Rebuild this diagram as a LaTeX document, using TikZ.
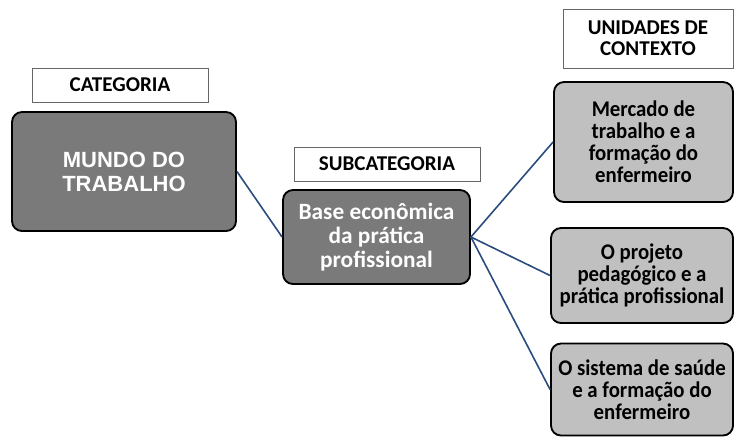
\documentclass[tikz,border=0pt]{standalone}
\usepackage{fontspec}
\setmainfont{Carlito}
\newfontfamily\arialfont{Liberation Sans}
\newfontfamily\semifont{Carlito}[FakeStretch=0.93]
\definecolor{darkbox}{HTML}{7A7A7A}
\definecolor{lightbox}{HTML}{C0C0C0}
\definecolor{linkblue}{HTML}{2B4C7E}
\begin{document}
\begin{tikzpicture}[x=0.75pt,y=-0.75pt,
  labelbox/.style={draw=black!60,line width=0.6pt,fill=white,inner sep=0pt,font=\bfseries\fontsize{15.8}{15.75}\selectfont,align=center},
  darkrbox/.style={draw=black,line width=1.4pt,rounded corners=7.5pt,fill=darkbox,inner sep=0pt,text=white,align=center},
  lightrbox/.style={draw=black,line width=1.4pt,rounded corners=7.5pt,fill=lightbox,inner sep=0pt,text=black,align=center,font=\semifont\bfseries\fontsize{16.8}{16.4}\selectfont},
  link/.style={draw=linkblue,line width=1.2pt}]
\useasboundingbox (0,0) rectangle (734,437);
% label boxes
\node[labelbox,minimum width=176*0.75pt,minimum height=34*0.75pt] (lcat) at (120,85) {CATEGORIA};
\node[labelbox,minimum width=186*0.75pt,minimum height=34*0.75pt] (lsub) at (387,164) {SUBCATEGORIA};
\node[labelbox,minimum width=170*0.75pt,minimum height=59*0.75pt] (lctx) at (648,38.5) {UNIDADES DE\\CONTEXTO};
% main boxes
\node[darkrbox,minimum width=224*0.75pt,minimum height=119*0.75pt,font=\arialfont\bfseries\fontsize{16.5}{18}\selectfont] (mundo) at (124,171.5) {MUNDO DO\\TRABALHO};
\node[darkrbox,minimum width=187*0.75pt,minimum height=94*0.75pt,font=\bfseries\fontsize{17.5}{18.2}\selectfont] (sub) at (376.5,237) {Base econômica\\da prática\\profissional};
\node[lightrbox,minimum width=179*0.75pt,minimum height=120*0.75pt] (u1) at (643.5,142) {Mercado de\\trabalho e a\\formação do\\enfermeiro};
\node[lightrbox,minimum width=182*0.75pt,minimum height=95*0.75pt] (u2) at (642,275.5) {O projeto\\pedagógico e a\\prática profissional};
\node[lightrbox,minimum width=182*0.75pt,minimum height=92*0.75pt] (u3) at (642,389.5) {O sistema de saúde\\e a formação do\\enfermeiro};
% connectors
\draw[link] (mundo.east) -- (sub.west);
\draw[link] (sub.east) -- (u1.west);
\draw[link] (sub.east) -- (u2.west);
\draw[link] (sub.east) -- (u3.west);
\end{tikzpicture}
\end{document}
